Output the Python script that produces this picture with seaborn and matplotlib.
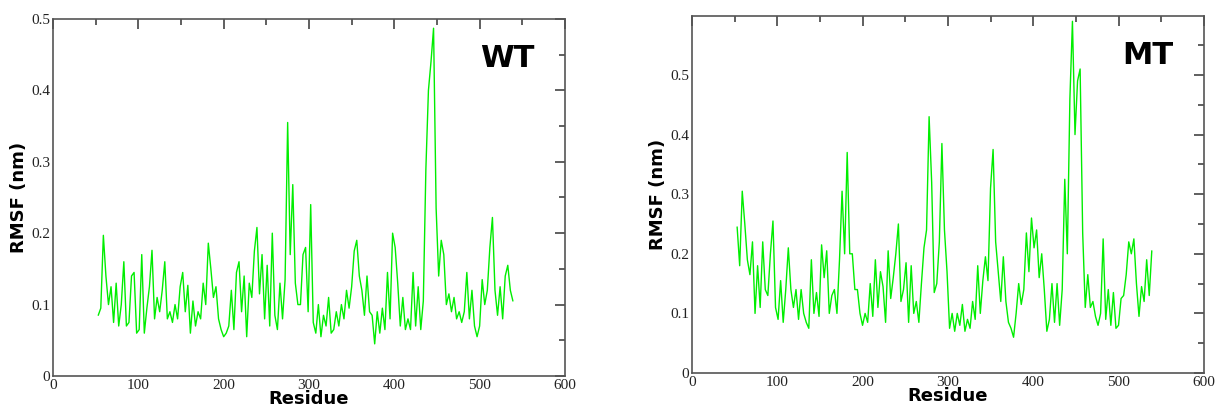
import numpy as np
import pandas as pd
import seaborn as sns
import matplotlib.pyplot as plt
from matplotlib.ticker import MultipleLocator

# Residue grid (every 3rd residue)
residues = np.arange(53, 540, 3)

rmsf_wt = [
    0.085, 0.095, 0.197, 0.14, 0.10, 0.125, 0.075, 0.13, 0.07, 0.10,      # 53-80
    0.16, 0.07, 0.075, 0.14, 0.145, 0.06, 0.065, 0.17, 0.06, 0.095,      # 83-110
    0.125, 0.176, 0.08, 0.11, 0.09, 0.12, 0.16, 0.08, 0.09, 0.075,       # 113-140
    0.10, 0.08, 0.125, 0.145, 0.09, 0.127, 0.06, 0.105, 0.07, 0.09,      # 143-170
    0.08, 0.13, 0.10, 0.186, 0.15, 0.11, 0.125, 0.08, 0.065, 0.055,      # 173-200
    0.06, 0.07, 0.12, 0.065, 0.145, 0.16, 0.09, 0.14, 0.055, 0.13,       # 203-230
    0.11, 0.175, 0.208, 0.115, 0.17, 0.08, 0.155, 0.07, 0.20, 0.085,     # 233-260
    0.065, 0.13, 0.08, 0.135, 0.355, 0.17, 0.268, 0.13, 0.10, 0.10,      # 263-290
    0.17, 0.18, 0.09, 0.24, 0.075, 0.06, 0.10, 0.055, 0.085, 0.07,       # 293-320
    0.11, 0.06, 0.065, 0.09, 0.07, 0.10, 0.08, 0.12, 0.095, 0.125,       # 323-350
    0.175, 0.19, 0.14, 0.12, 0.085, 0.14, 0.09, 0.085, 0.045, 0.09,      # 353-380
    0.06, 0.095, 0.065, 0.145, 0.08, 0.20, 0.18, 0.13, 0.07, 0.11,       # 383-410
    0.065, 0.08, 0.065, 0.145, 0.07, 0.125, 0.065, 0.105, 0.29, 0.40,    # 413-440
    0.44, 0.487, 0.235, 0.14, 0.19, 0.17, 0.10, 0.115, 0.09, 0.11,       # 443-470
    0.08, 0.09, 0.075, 0.09, 0.145, 0.08, 0.12, 0.07, 0.055, 0.07,       # 473-500
    0.135, 0.10, 0.12, 0.18, 0.222, 0.12, 0.085, 0.125, 0.08, 0.14,      # 503-530
    0.155, 0.12, 0.105,                                                  # 533-539
]

rmsf_mt = [
    0.245, 0.18, 0.305, 0.25, 0.19, 0.165, 0.22, 0.10, 0.18, 0.11,       # 53-80
    0.22, 0.14, 0.13, 0.20, 0.255, 0.11, 0.09, 0.155, 0.085, 0.14,       # 83-110
    0.21, 0.14, 0.11, 0.14, 0.09, 0.14, 0.10, 0.085, 0.075, 0.19,        # 113-140
    0.10, 0.135, 0.095, 0.215, 0.16, 0.205, 0.10, 0.13, 0.14, 0.10,      # 143-170
    0.19, 0.305, 0.20, 0.37, 0.20, 0.20, 0.14, 0.14, 0.10, 0.08,         # 173-200
    0.10, 0.085, 0.15, 0.095, 0.19, 0.11, 0.17, 0.145, 0.085, 0.205,     # 203-230
    0.125, 0.16, 0.20, 0.25, 0.12, 0.14, 0.185, 0.085, 0.18, 0.10,       # 233-260
    0.12, 0.085, 0.15, 0.21, 0.24, 0.43, 0.32, 0.135, 0.15, 0.22,        # 263-290
    0.385, 0.24, 0.17, 0.075, 0.10, 0.07, 0.10, 0.08, 0.115, 0.07,       # 293-320
    0.09, 0.075, 0.12, 0.09, 0.18, 0.10, 0.155, 0.195, 0.155, 0.31,      # 323-350
    0.375, 0.22, 0.17, 0.12, 0.195, 0.12, 0.085, 0.075, 0.06, 0.10,      # 353-380
    0.15, 0.115, 0.14, 0.235, 0.17, 0.26, 0.21, 0.24, 0.16, 0.20,        # 383-410
    0.14, 0.07, 0.09, 0.15, 0.085, 0.15, 0.08, 0.14, 0.325, 0.20,        # 413-440
    0.46, 0.59, 0.40, 0.49, 0.51, 0.235, 0.11, 0.165, 0.11, 0.12,        # 443-470
    0.095, 0.08, 0.10, 0.225, 0.09, 0.14, 0.08, 0.135, 0.075, 0.08,      # 473-500
    0.125, 0.13, 0.165, 0.22, 0.20, 0.225, 0.15, 0.095, 0.145, 0.12,     # 503-530
    0.19, 0.13, 0.205,                                                   # 533-539
]

panels = [
    ("WT", rmsf_wt, 0.5, [0.0436, 0.0807, 0.421, 0.873]),
    ("MT", rmsf_mt, 0.599, [0.569, 0.088, 0.421, 0.873]),
]

sns.set_style("white")
plt.rcParams['font.family'] = ['DejaVu Sans']
plt.rcParams['text.color'] = 'black'
plt.rcParams['axes.labelcolor'] = 'black'

fig = plt.figure(figsize=(12.16, 4.09), dpi=100)

for name, values, ytop, rect in panels:
    df = pd.DataFrame({"Residue": residues, "RMSF": values})
    ax = fig.add_axes(rect)
    sns.lineplot(data=df, x="Residue", y="RMSF", color="#00ee00", lw=1.0,
                 ax=ax, errorbar=None)

    ax.set_xlim(0, 600)
    ax.set_ylim(0, ytop)
    ax.xaxis.set_major_locator(MultipleLocator(100))
    ax.xaxis.set_minor_locator(MultipleLocator(50))
    ax.yaxis.set_minor_locator(MultipleLocator(0.05))
    ax.set_yticks(np.arange(0, 0.51, 0.1))
    ax.set_yticklabels(["0", "0.1", "0.2", "0.3", "0.4", "0.5"])
    ax.tick_params(which="both", direction="in", top=True, right=True,
                   color="#444444", width=1.2)
    ax.tick_params(which="major", length=7, labelsize=11, pad=2)
    ax.tick_params(which="minor", length=4)
    for lab in ax.get_xticklabels() + ax.get_yticklabels():
        lab.set_family("Liberation Serif")
        lab.set_color("#222222")
    for sp in ax.spines.values():
        sp.set_color("#555555")
        sp.set_linewidth(1.2)

    ax.set_xlabel("Residue", fontsize=13, fontweight="heavy", labelpad=-1)
    ax.set_ylabel("RMSF (nm)", fontsize=13, fontweight="heavy", labelpad=2)
    ax.text(0.94, 0.93, name, transform=ax.transAxes, ha="right", va="top",
            fontsize=22, fontweight="heavy", color="black")

fig.savefig("out.png", dpi=100)
